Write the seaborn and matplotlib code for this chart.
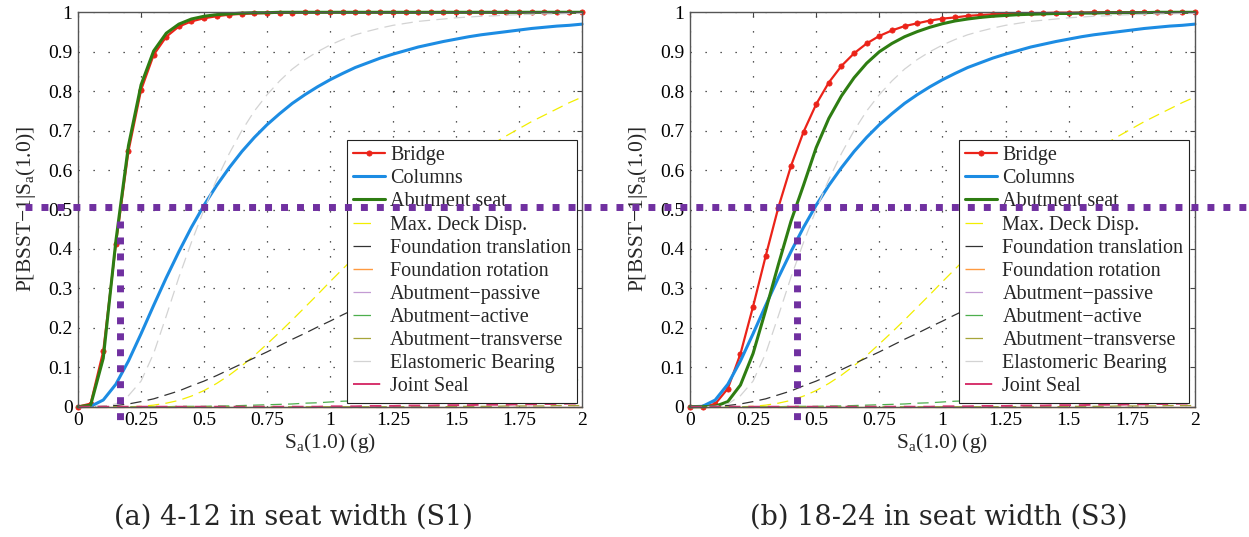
import matplotlib
matplotlib.use("Agg")
import matplotlib.pyplot as plt
import matplotlib.transforms as mtransforms
from matplotlib.lines import Line2D
import seaborn as sns

# Spectral acceleration grid, Sa(1.0) in g
sa = [0.00, 0.05, 0.10, 0.15, 0.20, 0.25, 0.30, 0.35, 0.40, 0.45,
      0.50, 0.55, 0.60, 0.65, 0.70, 0.75, 0.80, 0.85, 0.90, 0.95,
      1.00, 1.05, 1.10, 1.15, 1.20, 1.25, 1.30, 1.35, 1.40, 1.45,
      1.50, 1.55, 1.60, 1.65, 1.70, 1.75, 1.80, 1.85, 1.90, 1.95, 2.00]

# System fragility, seat width 4-12 in (S1)
bridge_s1 = [0.000, 0.008, 0.141, 0.412, 0.648, 0.803, 0.892, 0.938, 0.964, 0.977,
             0.985, 0.990, 0.994, 0.996, 0.997, 0.998, 0.999, 0.999, 1.000, 1.000,
             1.000, 1.000, 1.000, 1.000, 1.000, 1.000, 1.000, 1.000, 1.000, 1.000,
             1.000, 1.000, 1.000, 1.000, 1.000, 1.000, 1.000, 1.000, 1.000, 1.000, 1.000]
seat_s1 = [0.000, 0.004, 0.123, 0.420, 0.662, 0.816, 0.902, 0.947, 0.970, 0.983,
           0.990, 0.994, 0.996, 0.998, 0.999, 0.999, 1.000, 1.000, 1.000, 1.000,
           1.000, 1.000, 1.000, 1.000, 1.000, 1.000, 1.000, 1.000, 1.000, 1.000,
           1.000, 1.000, 1.000, 1.000, 1.000, 1.000, 1.000, 1.000, 1.000, 1.000, 1.000]

# System fragility, seat width 18-24 in (S3)
bridge_s3 = [0.000, 0.000, 0.007, 0.046, 0.134, 0.254, 0.382, 0.505, 0.610, 0.697,
             0.767, 0.822, 0.864, 0.896, 0.921, 0.940, 0.954, 0.965, 0.972, 0.979,
             0.984, 0.987, 0.991, 0.993, 0.995, 0.996, 0.997, 0.998, 0.998, 0.999,
             0.999, 0.999, 1.000, 1.000, 1.000, 1.000, 1.000, 1.000, 1.000, 1.000, 1.000]
seat_s3 = [0.000, 0.000, 0.001, 0.013, 0.055, 0.135, 0.245, 0.360, 0.470, 0.562,
           0.657, 0.731, 0.788, 0.834, 0.871, 0.900, 0.921, 0.938, 0.951, 0.962,
           0.971, 0.978, 0.983, 0.987, 0.990, 0.992, 0.994, 0.995, 0.996, 0.997,
           0.997, 0.998, 0.998, 0.999, 0.999, 0.999, 0.999, 1.000, 1.000, 1.000, 1.000]

# Component fragilities (same for both seat widths)
columns = [0.000, 0.001, 0.017, 0.057, 0.116, 0.185, 0.257, 0.327, 0.393, 0.455,
           0.511, 0.561, 0.606, 0.647, 0.683, 0.715, 0.743, 0.769, 0.791, 0.811,
           0.829, 0.845, 0.860, 0.872, 0.884, 0.894, 0.903, 0.912, 0.919, 0.926,
           0.932, 0.938, 0.943, 0.947, 0.951, 0.955, 0.959, 0.962, 0.965, 0.967, 0.970]
deck_disp = [0.000, 0.000, 0.000, 0.000, 0.000, 0.001, 0.004, 0.009, 0.016, 0.027,
             0.041, 0.059, 0.080, 0.104, 0.130, 0.159, 0.189, 0.220, 0.252, 0.284,
             0.317, 0.349, 0.381, 0.412, 0.442, 0.471, 0.500, 0.527, 0.554, 0.579,
             0.603, 0.625, 0.647, 0.668, 0.687, 0.705, 0.723, 0.739, 0.755, 0.771, 0.785]
found_trans = [0.000, 0.000, 0.001, 0.003, 0.007, 0.013, 0.020, 0.030, 0.040, 0.053,
               0.065, 0.079, 0.094, 0.109, 0.124, 0.139, 0.155, 0.171, 0.186, 0.202,
               0.217, 0.233, 0.248, 0.263, 0.278, 0.292, 0.307, 0.321, 0.335, 0.348,
               0.362, 0.375, 0.387, 0.400, 0.412, 0.424, 0.436, 0.447, 0.458, 0.469, 0.480]
found_rot = [0.000, 0.000, 0.000, 0.000, 0.000, 0.000, 0.000, 0.000, 0.000, 0.000,
             0.000, 0.000, 0.000, 0.000, 0.000, 0.000, 0.000, 0.000, 0.000, 0.000,
             0.000, 0.000, 0.000, 0.000, 0.000, 0.000, 0.000, 0.000, 0.000, 0.000,
             0.000, 0.000, 0.000, 0.000, 0.000, 0.000, 0.000, 0.000, 0.000, 0.000, 0.000]
abut_passive = [0.000, 0.000, 0.000, 0.000, 0.000, 0.000, 0.000, 0.000, 0.000, 0.000,
                0.000, 0.000, 0.000, 0.000, 0.000, 0.000, 0.000, 0.000, 0.000, 0.000,
                0.000, 0.000, 0.000, 0.000, 0.000, 0.000, 0.000, 0.000, 0.000, 0.000,
                0.000, 0.000, 0.000, 0.000, 0.000, 0.000, 0.000, 0.000, 0.000, 0.000, 0.000]
abut_active = [0.000, 0.000, 0.000, 0.000, 0.000, 0.000, 0.000, 0.000, 0.001, 0.001,
               0.001, 0.002, 0.002, 0.003, 0.004, 0.005, 0.006, 0.007, 0.009, 0.010,
               0.012, 0.014, 0.015, 0.018, 0.020, 0.022, 0.025, 0.027, 0.030, 0.033,
               0.035, 0.038, 0.042, 0.045, 0.048, 0.051, 0.055, 0.058, 0.062, 0.066, 0.069]
abut_trans = [0.000, 0.000, 0.000, 0.000, 0.000, 0.000, 0.000, 0.000, 0.000, 0.000,
              0.000, 0.000, 0.000, 0.000, 0.000, 0.000, 0.000, 0.000, 0.000, 0.000,
              0.000, 0.000, 0.000, 0.000, 0.000, 0.000, 0.000, 0.000, 0.000, 0.000,
              0.001, 0.001, 0.001, 0.001, 0.002, 0.002, 0.002, 0.002, 0.003, 0.003, 0.003]
bearing = [0.000, 0.000, 0.001, 0.007, 0.028, 0.065, 0.135, 0.230, 0.328, 0.417,
           0.500, 0.576, 0.642, 0.700, 0.750, 0.791, 0.826, 0.856, 0.880, 0.900,
           0.917, 0.931, 0.943, 0.952, 0.960, 0.967, 0.972, 0.977, 0.980, 0.983,
           0.986, 0.988, 0.990, 0.991, 0.993, 0.994, 0.995, 0.996, 0.996, 0.997, 0.997]
joint_seal = [0.000, 0.000, 0.000, 0.000, 0.000, 0.000, 0.000, 0.000, 0.000, 0.000,
              0.000, 0.000, 0.000, 0.000, 0.000, 0.000, 0.000, 0.000, 0.000, 0.000,
              0.001, 0.001, 0.001, 0.002, 0.002, 0.002, 0.003, 0.003, 0.003, 0.004,
              0.004, 0.004, 0.005, 0.005, 0.005, 0.006, 0.006, 0.007, 0.007, 0.008, 0.008]

# Median Sa of the bridge system for each seat width (g)
median_s1 = 0.167
median_s3 = 0.4225
half_level = 0.507

labels = ["Bridge", "Columns", "Abutment seat", "Max. Deck Disp.",
          "Foundation translation", "Foundation rotation", "Abutment\u2212passive",
          "Abutment\u2212active", "Abutment\u2212transverse", "Elastomeric Bearing",
          "Joint Seal"]
xtick_vals = [0, 0.25, 0.5, 0.75, 1, 1.25, 1.5, 1.75, 2]
xtick_text = ["0", "0.25", "0.5", "0.75", "1", "1.25", "1.5", "1.75", "2"]
ytick_vals = [0, 0.1, 0.2, 0.3, 0.4, 0.5, 0.6, 0.7, 0.8, 0.9, 1]
ytick_text = ["0", "0.1", "0.2", "0.3", "0.4", "0.5", "0.6", "0.7", "0.8", "0.9", "1"]
captions = ["(a) 4-12 in seat width (S1)", "(b) 18-24 in seat width (S3)"]

RED = "#EB2319"
BLUE = "#1C8CE3"
GREEN = "#2E7D12"
PURPLE = "#7030A0"
DASH = (0, (9, 5))

sns.set_style("white")
plt.rcParams["font.family"] = ["Liberation Serif", "DejaVu Serif"]
plt.rcParams["mathtext.fontset"] = "custom"
plt.rcParams["mathtext.rm"] = "Liberation Serif"
plt.rcParams["mathtext.it"] = "Liberation Serif:italic"

fig = plt.figure(figsize=(12.49, 5.37), dpi=100)
ax_a = fig.add_axes([0.0625, 0.2426, 0.4035, 0.7345])
ax_b = fig.add_axes([0.5524, 0.2426, 0.4043, 0.7345])


def draw_panel(ax, bridge, seat):
    styles = [
        (bridge, dict(color=RED, lw=1.6, marker="o", ms=3.8, mec=RED, mfc=RED, mew=0.5)),
        (columns, dict(color=BLUE, lw=2.2)),
        (seat, dict(color=GREEN, lw=2.2)),
        (deck_disp, dict(color="#F2EE00", lw=0.9, linestyle=DASH)),
        (found_trans, dict(color="#333333", lw=0.9, linestyle=DASH)),
        (found_rot, dict(color="#FF9A40", lw=1.0)),
        (abut_passive, dict(color="#C39BD3", lw=0.9, linestyle=DASH)),
        (abut_active, dict(color="#4DAF4D", lw=0.9, linestyle=DASH)),
        (abut_trans, dict(color="#A7A53A", lw=0.9, linestyle=DASH)),
        (bearing, dict(color="#D3D3D3", lw=0.9, linestyle=DASH)),
        (joint_seal, dict(color="#D6336C", lw=1.4, linestyle=(0, (6, 4)))),
    ]
    for label, (vals, kw) in zip(labels, styles):
        sns.lineplot(x=sa, y=vals, ax=ax, label=label, errorbar=None,
                     clip_on=False, **kw)

    ax.set_xlim(0, 2)
    ax.set_ylim(0, 1)
    ax.set_xticks(xtick_vals)
    ax.set_xticklabels(xtick_text)
    ax.set_yticks(ytick_vals)
    ax.set_yticklabels(ytick_text)
    ax.grid(True, linestyle=(0, (1, 11)), color="#222222", lw=0.9)
    ax.tick_params(direction="in", length=3.6, width=0.8, top=True, right=True,
                   labelsize=14, pad=4, color="#444444", labelcolor="black")
    for sp in ax.spines.values():
        sp.set_color("#555555")
        sp.set_linewidth(1.0)
    ax.set_xlabel("S$_{\\rm a}$(1.0) (g)", fontsize=15.5, labelpad=1)
    ax.set_ylabel("P[BSST\u22121|S$_{\\rm a}$(1.0)]", fontsize=15.5, labelpad=7)

    leg = ax.legend(loc="upper left", bbox_to_anchor=(0.533, 0.676), fontsize=14.5,
                    frameon=True, fancybox=False, edgecolor="#222222", framealpha=1,
                    borderpad=0.3, labelspacing=0.2, handlelength=1.6,
                    handletextpad=0.25, borderaxespad=0)
    leg.get_frame().set_linewidth(0.8)
    for h in leg.get_lines()[3:]:
        h.set_linestyle((0, (14, 40)))


draw_panel(ax_a, bridge_s1, seat_s1)
draw_panel(ax_b, bridge_s3, seat_s3)

# 50% probability level across both panels and the median Sa drop lines
purple_kw = dict(color=PURPLE, lw=5.0, linestyle=(0, (1, 1.3)),
                 solid_capstyle="butt", dash_capstyle="butt", zorder=20)
level_tr = mtransforms.blended_transform_factory(fig.transFigure, ax_a.transData)
fig.add_artist(Line2D([25 / 1249, 1.0], [half_level, half_level],
                      transform=level_tr, **purple_kw))
for ax, med in [(ax_a, median_s1), (ax_b, median_s3)]:
    ax.plot([med, med], [0.47, -0.036], clip_on=False, **purple_kw)

fig.text(293 / 1249, 1 - 517 / 537, captions[0], ha="center", va="center",
         fontsize=19.5, family="DejaVu Serif")
fig.text(939 / 1249, 1 - 517 / 537, captions[1], ha="center", va="center",
         fontsize=19.5, family="DejaVu Serif")

fig.savefig("out.png", dpi=100)
